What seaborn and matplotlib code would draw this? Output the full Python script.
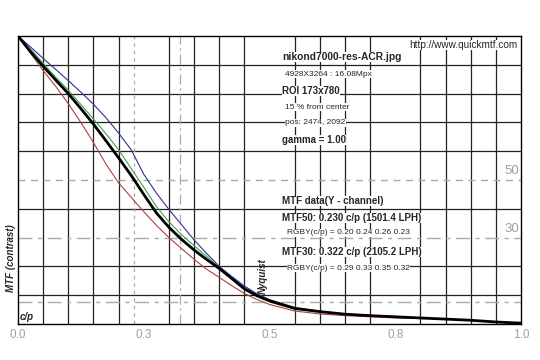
import numpy as np
import pandas as pd
import seaborn as sns
from matplotlib import pyplot as plt

# spatial frequency (cycles/pixel)
freq = [0.0, 0.025, 0.05, 0.075, 0.1, 0.125, 0.15, 0.175, 0.2, 0.225, 0.25, 0.275,
        0.3, 0.325, 0.35, 0.375, 0.4, 0.425, 0.45, 0.475, 0.5,
        0.55, 0.6, 0.65, 0.7, 0.75, 0.8, 0.85, 0.9, 0.95, 1.0]

# MTF per channel
mtf_r = [1.0, 0.94, 0.88, 0.825, 0.765, 0.70, 0.63, 0.555, 0.49, 0.44, 0.39, 0.343,
         0.30, 0.262, 0.225, 0.19, 0.162, 0.133, 0.106, 0.085, 0.068,
         0.045, 0.035, 0.029, 0.025, 0.021, 0.019, 0.018, 0.013, 0.007, 0.003]
mtf_g = [1.0, 0.955, 0.905, 0.857, 0.812, 0.762, 0.712, 0.66, 0.605, 0.54, 0.475, 0.408,
         0.355, 0.31, 0.272, 0.235, 0.196, 0.16, 0.128, 0.103, 0.085,
         0.058, 0.044, 0.035, 0.029, 0.025, 0.021, 0.017, 0.013, 0.007, 0.003]
mtf_b = [1.0, 0.962, 0.922, 0.884, 0.845, 0.805, 0.763, 0.716, 0.663, 0.605, 0.52, 0.455,
         0.398, 0.345, 0.292, 0.245, 0.20, 0.165, 0.132, 0.105, 0.084,
         0.056, 0.043, 0.035, 0.029, 0.025, 0.021, 0.017, 0.013, 0.007, 0.003]
mtf_y = [1.0, 0.945, 0.895, 0.847, 0.80, 0.748, 0.694, 0.636, 0.577, 0.516, 0.45, 0.386,
         0.336, 0.294, 0.257, 0.224, 0.193, 0.158, 0.122, 0.098, 0.08,
         0.054, 0.043, 0.034, 0.029, 0.025, 0.021, 0.017, 0.013, 0.007, 0.003]

mtf50 = 0.230
mtf30 = 0.322
xtick_pos = [0.0, 0.25, 0.5, 0.75, 1.0]
xtick_labels = ['0.0', '0.3', '0.5', '0.8', '1.0']

info_lines = [
    ('nikond7000-res-ACR.jpg', True),
    ('4928X3264 : 16.08Mpx', False),
    ('ROI 173x780', True),
    ('15 % from center', False),
    ('pos: 2474, 2092', False),
    ('gamma = 1.00', True),
]
mtf_lines = [
    ('MTF data(Y - channel)', True),
    ('MTF50: 0.230 c/p (1501.4 LPH)', True),
    ('RGBY(c/p) = 0.20 0.24 0.26 0.23', False),
    ('MTF30: 0.322 c/p (2105.2 LPH)', True),
    ('RGBY(c/p) = 0.29 0.33 0.35 0.32', False),
]

sns.set_style('white')
plt.rcParams['font.family'] = ['Liberation Sans', 'DejaVu Sans']

fig = plt.figure(figsize=(5.4, 3.6), dpi=100)
ax = fig.add_axes([18 / 540, 36 / 360, 503 / 540, 288 / 360])

# grid (0.3 and 0.5 replaced by dashed markers below)
ax.set_xticks(np.arange(0.05, 1.0, 0.05), minor=True)
ax.set_yticks([0.1, 0.2, 0.4, 0.6, 0.7, 0.8, 0.9], minor=True)
ax.grid(which='minor', color='#222222', lw=0.9)
ax.tick_params(which='both', length=0)

ax.axhline(0.5, color='#aaaaaa', lw=1, dashes=(5, 4))
ax.axhline(0.3, color='#aaaaaa', lw=1, dashes=(10, 4, 3, 4))
ax.axhline(0.077, color='#aaaaaa', lw=1, dashes=(10, 4, 3, 4))
ax.axvline(mtf50, color='#aaaaaa', lw=0.9, dashes=(3, 3))
ax.axvline(mtf30, color='#aaaaaa', lw=0.9, dashes=(8, 3, 2, 3))

series = [(mtf_r, '#b04040', 0.8), (mtf_g, '#40a050', 0.8),
          (mtf_b, '#303090', 0.8), (mtf_y, '#000000', 2.0)]
for vals, col, lw in series:
    sns.lineplot(x=freq, y=vals, color=col, lw=lw, ax=ax)

ax.set_xlim(0, 1)
ax.set_ylim(0, 1)
ax.set_xticks(xtick_pos)
ax.set_xticklabels(xtick_labels, color='#a0a0a0', fontsize=8.5)
ax.set_yticks([])
for s in ax.spines.values():
    s.set_color('black')
    s.set_linewidth(1)

box = dict(facecolor='white', edgecolor='none', pad=0.3)
ys = [57, 74, 91, 107, 123, 140]
for (txt, bold), py in zip(info_lines, ys):
    size = 7 if bold else 6
    if txt.endswith('.jpg'):
        size = 7.4
    ax.text((282 if bold else 285) / 540, 1 - py / 360, txt, transform=fig.transFigure,
            fontsize=size, fontweight='bold' if bold else 'normal',
            ha='left', va='center', bbox=box)
ys = [201, 218, 233, 252, 268]
for (txt, bold), py in zip(mtf_lines, ys):
    ax.text((282 if bold else 287) / 540, 1 - py / 360, txt, transform=fig.transFigure,
            fontsize=7 if bold else 6, fontweight='bold' if bold else 'normal',
            ha='left', va='center', bbox=box)

ax.text(518 / 540, 1 - 45 / 360, 'http://www.quickmtf.com', transform=fig.transFigure,
        fontsize=7.2, ha='right', va='center', bbox=box)
ax.text(0.997, 0.5 + 0.01, '50', color='#a0a0a0', fontsize=9.5, ha='right', va='bottom')
ax.text(0.997, 0.3 + 0.01, '30', color='#a0a0a0', fontsize=9.5, ha='right', va='bottom')
ax.text(0.497, 0.165, 'Nyquist', rotation=90, fontsize=7, fontweight='bold',
        fontstyle='italic', ha='right', va='center')
ax.text(0.004, 0.008, 'c/p', fontsize=7, fontweight='bold', fontstyle='italic',
        ha='left', va='bottom')
ax.text(-0.003, 0.229, 'MTF (contrast)', rotation=90, fontsize=7, fontweight='bold',
        fontstyle='italic', ha='right', va='center')

fig.savefig('out.png', dpi=100, facecolor='white')
